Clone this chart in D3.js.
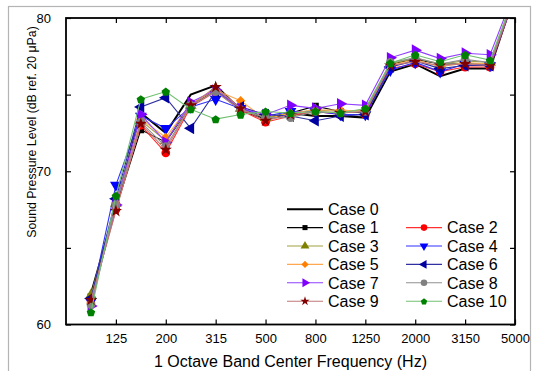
<!DOCTYPE html>
<html>
<head>
<meta charset="utf-8">
<script src="https://cdn.jsdelivr.net/npm/d3@7"></script>
<style>
  body { margin: 0; background: #fff; }
  text { font-family: "Liberation Sans", Arial, sans-serif; fill: #000; }
</style>
</head>
<body>
<svg width="538" height="371"></svg>
<script>
// 1/3 octave band centres (index positions on the x axis)
var freqs = [100, 125, 160, 200, 250, 315, 400, 500, 630, 800, 1000, 1250, 1600, 2000, 2500, 3150, 4000, 5000];
var tickLabels = ["125", "200", "315", "500", "800", "1250", "2000", "3150", "5000"];
var yTicks = [60, 65, 70, 75, 80];
var yLabels = [60, 70, 80];

var caseNames = ["Case 0", "Case 1", "Case 2", "Case 3", "Case 4", "Case 5",
                 "Case 6", "Case 7", "Case 8", "Case 9", "Case 10"];

var case0  = [62.0, 67.7, 73.8, 72.5, 75.0, 75.6, 74.0, 73.4, 73.8, 73.6, 73.6, 73.5, 76.5, 77.0, 76.2, 76.7, 76.7, 81.6];
var case1  = [61.8, 67.6, 72.7, 71.9, 74.3, 75.3, 74.1, 73.5, 73.8, 74.25, 73.9, 73.8, 77.0, 77.3, 77.0, 77.0, 77.0, 81.5];
var case2  = [61.6, 67.5, 73.0, 71.2, 74.2, 75.2, 74.0, 73.2, 73.6, 73.9, 73.7, 73.7, 76.7, 77.0, 76.5, 76.8, 76.8, 81.4];
var case3  = [61.9, 67.9, 73.3, 72.0, 74.3, 75.4, 74.1, 73.5, 73.8, 74.0, 73.9, 74.0, 77.0, 77.4, 77.0, 77.2, 77.1, 81.6];
var case4  = [61.5, 69.1, 73.6, 72.8, 74.2, 74.7, 74.1, 73.6, 73.9, 73.9, 73.7, 73.7, 76.6, 77.1, 76.5, 77.0, 76.9, 81.4];
var case5  = [61.4, 67.9, 73.4, 72.2, 74.4, 75.3, 74.6, 73.4, 73.8, 74.0, 74.0, 73.9, 76.9, 77.3, 76.8, 77.1, 77.0, 81.5];
var case6  = [61.7, 68.2, 74.2, 74.8, 72.8, 75.2, 74.2, 73.7, 73.6, 73.3, 73.6, 73.7, 76.8, 77.2, 76.7, 76.9, 76.9, 81.5];
var case7  = [61.2, 67.8, 73.7, 71.9, 74.5, 75.3, 74.1, 73.7, 74.3, 74.1, 74.4, 74.3, 77.4, 77.9, 77.35, 77.7, 77.6, 81.8];
var case8  = [61.3, 67.8, 73.2, 71.6, 74.3, 75.2, 74.0, 73.5, 73.5, 73.9, 73.8, 73.9, 77.1, 77.4, 77.0, 77.3, 77.1, 81.6];
var case9  = [61.6, 67.4, 73.1, 71.4, 74.3, 75.5, 74.1, 73.3, 73.7, 73.9, 73.8, 73.9, 76.9, 77.15, 76.9, 77.0, 76.9, 81.5];
var case10 = [60.8, 68.4, 74.7, 75.2, 74.05, 73.4, 73.7, 73.9, 73.8, 73.9, 73.8, 74.1, 77.05, 77.6, 77.15, 77.6, 77.25, 81.6];

var allCases = [case0, case1, case2, case3, case4, case5, case6, case7, case8, case9, case10];

// styles, one per case
var markColors = ["#000000", "#000000", "#ff0000", "#808000", "#0000ff", "#ff8000",
                  "#0000a0", "#8000ff", "#808080", "#800000", "#008000"];
var lineColors = ["#000000", "#000000", "#ff3030", "#a0a040", "#3030ff", "#ffa850",
                  "#3030a0", "#9040ff", "#909090", "#c07878", "#70c070"];
var shapes = [null, "square", "circle", "up", "down", "diamond", "left", "right", "circle", "star", "pentagon"];

var svg = d3.select("svg");
var padL = 66, padR = 515, padT = 18, padB = 324.5;

var x = d3.scaleLinear().domain([-1, freqs.length - 1]).range([padL, padR]);
var y = d3.scaleLinear().domain([60, 80]).range([padB, padT]);

// outer grey frame
svg.append("rect")
    .attr("x", 8.5).attr("y", 6.5)
    .attr("width", 522).attr("height", 380)
    .attr("fill", "none").attr("stroke", "#b4b4b4").attr("stroke-width", 1.2);

svg.append("clipPath").attr("id", "clip")
  .append("rect")
    .attr("x", padL).attr("y", padT)
    .attr("width", padR - padL).attr("height", padB - padT);

function symbolPath(shape, size) {
    var r = Math.sqrt(size) / 2;
    if (shape == "pentagon") {
        var pts = d3.range(5).map(function(k) {
            var a = -Math.PI / 2 + k * 2 * Math.PI / 5;
            return [r * 1.15 * Math.cos(a), r * 1.15 * Math.sin(a) + 0.5];
        });
        return "M" + pts.join("L") + "Z";
    }
    var type = {
        square: d3.symbolSquare, circle: d3.symbolCircle, up: d3.symbolTriangle,
        down: d3.symbolTriangle, left: d3.symbolTriangle, right: d3.symbolTriangle,
        diamond: d3.symbolSquare, star: d3.symbolStar
    }[shape];
    var s = size;
    if (shape == "square") s = size * 0.75;
    if (shape == "diamond") s = size * 0.75;
    if (shape == "star") s = size * 0.8;
    return d3.symbol().type(type).size(s)();
}
function symbolRotate(shape) {
    return {down: 180, left: -90, right: 90, diamond: 45}[shape] || 0;
}

var plot = svg.append("g").attr("clip-path", "url(#clip)");
var line = d3.line()
    .x(function(d, i) { return x(i); })
    .y(function(d) { return y(d); });

allCases.forEach(function(vals, c) {
    plot.append("path")
        .datum(vals)
        .attr("d", line)
        .attr("fill", "none")
        .attr("stroke", lineColors[c])
        .attr("stroke-width", c == 0 ? 2 : 1.1);
    if (shapes[c]) {
        plot.selectAll(null)
            .data(vals)
            .enter()
            .append("path")
            .attr("d", symbolPath(shapes[c], 60))
            .attr("fill", markColors[c])
            .attr("transform", function(d, i) {
                return "translate(" + x(i) + "," + y(d) + ") rotate(" + symbolRotate(shapes[c]) + ")";
            });
    }
});

// axes, ticks pointing inward on all four sides
var tickIdx = d3.range(1, freqs.length, 2);
var xAxis = d3.axisBottom(x).tickValues(tickIdx)
    .tickFormat(function(d, i) { return tickLabels[i]; })
    .tickSizeInner(-5).tickSizeOuter(0).tickPadding(9);
var gx = svg.append("g").attr("transform", "translate(0," + padB + ")").call(xAxis);
gx.selectAll("text").style("font-size", "13px").style("font-family", "Liberation Sans, Arial");

svg.append("g").attr("transform", "translate(0," + padT + ")")
    .call(d3.axisTop(x).tickValues(tickIdx).tickFormat("").tickSizeInner(-5).tickSizeOuter(0));

var yAxis = d3.axisLeft(y).tickValues(yTicks)
    .tickFormat(function(d) { return yLabels.indexOf(d) >= 0 ? d : ""; })
    .tickSizeInner(-5).tickSizeOuter(0).tickPadding(15);
var gy = svg.append("g").attr("transform", "translate(" + padL + ",0)").call(yAxis);
gy.selectAll("text").style("font-size", "13px").style("font-family", "Liberation Sans, Arial");

svg.append("g").attr("transform", "translate(" + padR + ",0)")
    .call(d3.axisRight(y).tickValues(yTicks).tickFormat("").tickSizeInner(-5).tickSizeOuter(0));

svg.selectAll(".domain").remove();
svg.selectAll(".tick line").attr("stroke", "#000").attr("stroke-width", 1.2);

svg.append("rect")
    .attr("x", padL).attr("y", padT)
    .attr("width", padR - padL).attr("height", padB - padT)
    .attr("fill", "none").attr("stroke", "#000").attr("stroke-width", 1.8);

// axis titles
svg.append("text")
    .attr("x", (padL + padR) / 2).attr("y", 367)
    .attr("text-anchor", "middle")
    .style("font-size", "16px")
    .text("1 Octave Band Center Frequency (Hz)");

svg.append("text")
    .attr("transform", "translate(35.5,132) rotate(-90)")
    .attr("text-anchor", "middle")
    .style("font-size", "12.3px")
    .text("Sound Pressure Level (dB ref. 20 \u03bcPa)");

// legend
var legend = svg.append("g");
var rowY = [209.3, 227.6, 246, 264.4, 282.8, 301.2];
caseNames.forEach(function(name, c) {
    var row, col;
    if (c == 0) { row = 0; col = 0; }
    else { row = Math.floor((c - 1) / 2) + 1; col = (c - 1) % 2; }
    var lx = col == 0 ? 287 : 406;
    var g = legend.append("g").attr("transform", "translate(" + lx + "," + rowY[row] + ")");
    g.append("line")
        .attr("x1", 0).attr("x2", 36)
        .attr("stroke", lineColors[c])
        .attr("stroke-width", c == 0 ? 2 : 1.1);
    if (shapes[c]) {
        g.append("path")
            .attr("d", symbolPath(shapes[c], 34))
            .attr("fill", markColors[c])
            .attr("transform", "translate(18,0) rotate(" + symbolRotate(shapes[c]) + ")");
    }
    g.append("text")
        .attr("x", 41).attr("dy", "0.36em")
        .style("font-size", "16px")
        .text(name);
});
</script>
</body>
</html>
